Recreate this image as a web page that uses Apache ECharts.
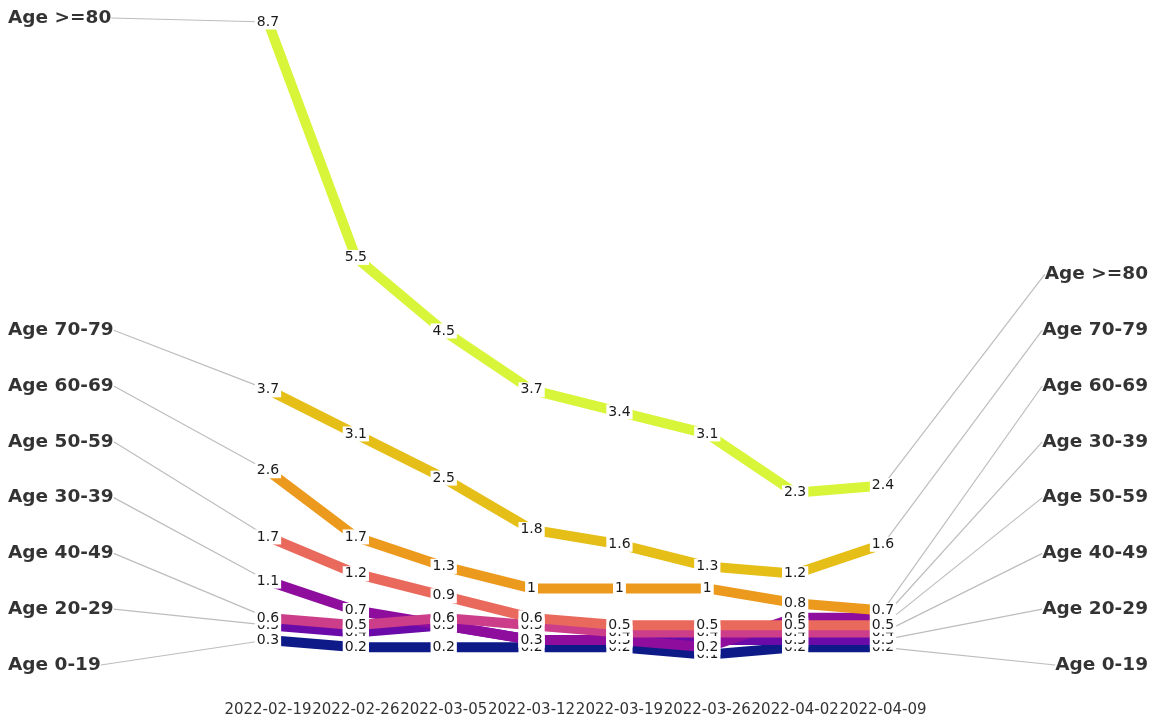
<!DOCTYPE html>
<html>
<head>
<meta charset="utf-8">
<style>html,body{margin:0;padding:0;background:#fff}#c{width:1155px;height:721px}</style>
<script src="https://cdn.jsdelivr.net/npm/echarts@6/dist/echarts.min.js"></script>
</head>
<body>
<div id="c"></div>
<script>
var dates = ['2022-02-19','2022-02-26','2022-03-05','2022-03-12','2022-03-19','2022-03-26','2022-04-02','2022-04-09'];
var groupNames = ['Age 0-19','Age 20-29','Age 30-39','Age 40-49','Age 50-59','Age 60-69','Age 70-79','Age >=80'];
var age0_19  = [0.3, 0.2, 0.2, 0.2, 0.2, 0.1, 0.2, 0.2];
var age20_29 = [0.5, 0.4, 0.5, 0.3, 0.3, 0.3, 0.3, 0.3];
var age30_39 = [1.1, 0.7, 0.5, 0.3, 0.3, 0.2, 0.6, 0.6];
var age40_49 = [0.6, 0.5, 0.6, 0.5, 0.4, 0.4, 0.4, 0.4];
var age50_59 = [1.7, 1.2, 0.9, 0.6, 0.5, 0.5, 0.5, 0.5];
var age60_69 = [2.6, 1.7, 1.3, 1.0, 1.0, 1.0, 0.8, 0.7];
var age70_79 = [3.7, 3.1, 2.5, 1.8, 1.6, 1.3, 1.2, 1.6];
var age80    = [8.7, 5.5, 4.5, 3.7, 3.4, 3.1, 2.3, 2.4];
var groupValues = [age0_19, age20_29, age30_39, age40_49, age50_59, age60_69, age70_79, age80];
var colors = ['#0d1a87','#6a0aa8','#8e0d9d','#cc3e89','#e96a5c','#ec9a1e','#e5bf17','#d8f53a'];

var n = dates.length;
function ranks(idx) {
  var order = groupValues.map(function (v, g) { return g; });
  order.sort(function (a, b) { return groupValues[a][idx] - groupValues[b][idx] || a - b; });
  var r = [];
  order.forEach(function (g, k) { r[g] = k; });
  return r;
}
var leftRank = ranks(0), rightRank = ranks(n - 1);

var lineSeries = groupValues.map(function (vals, g) {
  return {
    type: 'line', name: groupNames[g], data: vals, z: 3,
    symbol: 'circle', symbolSize: 1, showSymbol: true,
    lineStyle: { color: colors[g], width: 10, cap: 'butt' },
    itemStyle: { color: colors[g] },
    label: {
      show: true, position: 'inside', formatter: function (p) { return p.value; },
      fontFamily: 'DejaVu Sans', fontSize: 14, color: '#1a1a1a',
      backgroundColor: '#fff', padding: [1, 2, 0, 2]
    },
    emphasis: { disabled: true }, animation: false
  };
});

var nameData = [], nameMeta = [];
groupValues.forEach(function (vals, g) {
  nameData.push({ value: [0, vals[0]], name: groupNames[g] });
  nameMeta.push({ side: 'left', rank: leftRank[g] });
  nameData.push({ value: [n - 1, vals[n - 1]], name: groupNames[g] });
  nameMeta.push({ side: 'right', rank: rightRank[g] });
});

var nameSeries = {
  type: 'scatter', z: 1, data: nameData, symbolSize: 1,
  itemStyle: { color: 'rgba(0,0,0,0)' },
  label: {
    show: true, formatter: '{b}', fontFamily: 'DejaVu Sans', fontWeight: 'bold',
    fontSize: 18.5, color: '#000'
  },
  labelLine: { show: true, lineStyle: { color: '#bdbdbd', width: 1.2 } },
  labelLayout: function (p) {
    var m = nameMeta[p.dataIndex];
    var px = p.rect.x + p.rect.width / 2, py = p.rect.y + p.rect.height / 2;
    var y = 665 - m.rank * 55.8;
    if (m.rank === groupValues.length - 1 && py - 4 < y) y = py - 4;
    var w = p.labelRect.width;
    if (m.side === 'left') {
      return { x: 8, y: y, align: 'left', verticalAlign: 'middle',
        labelLinePoints: [[8 + w + 5, y], [px, py]] };
    }
    return { x: 1148, y: y, align: 'right', verticalAlign: 'middle',
      labelLinePoints: [[1148 - w - 5, y], [px, py]] };
  },
  emphasis: { disabled: true }, animation: false
};

var chart = echarts.init(document.getElementById('c'));
chart.setOption({
  animation: false,
  grid: { left: 268, right: 272, top: 22, bottom: 59, containLabel: false },
  xAxis: {
    type: 'category', data: dates, boundaryGap: false,
    axisLine: { show: false }, axisTick: { show: false }, splitLine: { show: false },
    axisLabel: { interval: 0, margin: 41, fontFamily: 'DejaVu Sans', fontSize: 15, color: '#333' }
  },
  yAxis: { type: 'value', min: 0, max: 8.7, show: false },
  series: [nameSeries].concat(lineSeries)
});
</script>
</body>
</html>
